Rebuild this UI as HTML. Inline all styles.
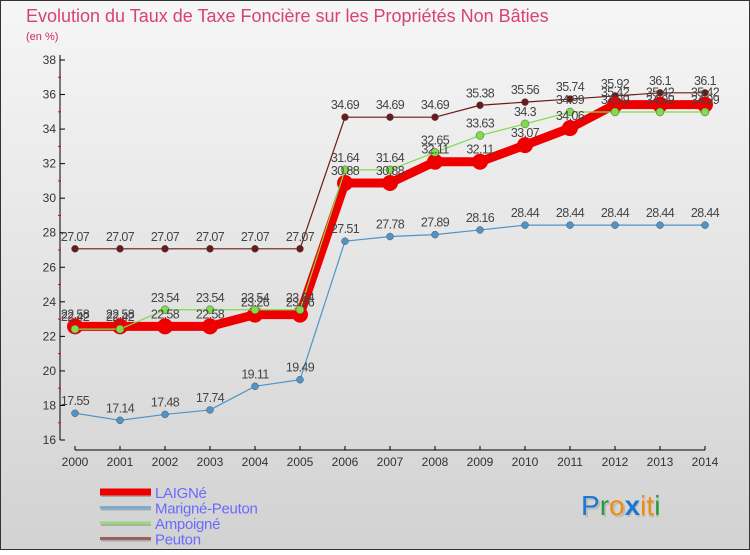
<!DOCTYPE html>
<html><head><meta charset="utf-8">
<style>
body{margin:0;width:750px;height:550px;overflow:hidden;font-family:"Liberation Sans",sans-serif}
</style></head><body>
<svg id="c" width="750" height="550" xmlns="http://www.w3.org/2000/svg">
<defs><linearGradient id="bg" x1="0" y1="0" x2="0" y2="1"><stop offset="0" stop-color="#f6f6f6"/><stop offset="1" stop-color="#d2d2d2"/></linearGradient></defs>
<rect x="0.5" y="0.5" width="749" height="549" fill="url(#bg)" stroke="#333"/>
<text x="26" y="22" font-size="18" fill="#d8407a">Evolution du Taux de Taxe Foncière sur les Propriétés Non Bâties</text>
<text x="26" y="40" font-size="11" fill="#d1246b">(en %)</text>
<g id="axes"></g><g id="series"></g><g id="legend"></g>
<g font-size="28" font-family="Liberation Sans, sans-serif">
<text x="583" y="517" fill="#aaa" opacity="0.6">Proxiti</text>
<text x="581" y="515"><tspan fill="#1a78d0">P</tspan><tspan fill="#2a9a3a">r</tspan><tspan fill="#f08a10">o</tspan><tspan fill="#1a78d0" font-weight="bold">x</tspan><tspan fill="#f08a10">i</tspan><tspan fill="#f08a10">t</tspan><tspan fill="#2a9a3a">i</tspan></text>
</g>
</svg>
<script>
const years=[2000,2001,2002,2003,2004,2005,2006,2007,2008,2009,2010,2011,2012,2013,2014];
const laigne=[22.58,22.58,22.58,22.58,23.26,23.26,30.88,30.88,32.11,32.11,33.07,34.06,35.42,35.42,35.42];
const marigne=[17.55,17.14,17.48,17.74,19.11,19.49,27.51,27.78,27.89,28.16,28.44,28.44,28.44,28.44,28.44];
const ampoigne=[22.42,22.42,23.54,23.54,23.54,23.54,31.64,31.64,32.65,33.63,34.3,34.99,34.99,34.99,34.99];
const peuton=[27.07,27.07,27.07,27.07,27.07,27.07,34.69,34.69,34.69,35.38,35.56,35.74,35.92,36.1,36.1];
const yTicks=[16,18,20,22,24,26,28,30,32,34,36,38];
const seriesNames=["LAIGNé","Marigné-Peuton","Ampoigné","Peuton"];
const NS="http://www.w3.org/2000/svg";
const X=i=>75+i*(705-75)/(years.length-1);
const Y=v=>440-(v-16)*(380/22);
function mk(t,a,p){const e=document.createElementNS(NS,t);for(const k in a)e.setAttribute(k,a[k]);p.appendChild(e);return e;}
const ax=document.getElementById('axes');
const yl=mk('line',{x1:60,y1:55,x2:60,y2:440,stroke:'#000'},ax);


yTicks.forEach(v=>{
 mk('line',{x1:60,y1:Y(v),x2:65,y2:Y(v),stroke:'#000'},ax);
 if(v<38) mk('line',{x1:58,y1:Y(v+1),x2:61,y2:Y(v+1),stroke:'#e00'},ax);
 const t=mk('text',{x:56,y:Y(v)+4,'font-size':12,fill:'#333','text-anchor':'end'},ax);t.textContent=v;
 
 
});
const xl=mk('line',{x1:75,y1:450,x2:705,y2:450,stroke:'#000'},ax);


years.forEach((y,i)=>{
 mk('line',{x1:X(i),y1:446,x2:X(i),y2:450,stroke:'#000'},ax);
 const t=mk('text',{x:X(i),y:466,'font-size':12,fill:'#333','text-anchor':'middle'},ax);t.textContent=y;
 
 
});
const sg=document.getElementById('series');
function draw(data,color,w,r,name){
 const g=mk('g',{},sg);
 
 
 mk('polyline',{points:data.map((v,i)=>X(i)+','+Y(v)).join(' '),fill:'none',stroke:color,'stroke-width':w,'stroke-linejoin':'round'},g);
 data.forEach((v,i)=>{
  const c=mk('circle',{cx:X(i),cy:Y(v),r:r,fill:color,stroke:w>3?color:'#555','stroke-width':w>3?0:0.5},g);
  
  
 });
}
function labels(data,name){
 data.forEach((v,i)=>{const t=mk('text',{x:X(i),y:Y(v)-8,'font-size':12.5,fill:'#444','text-anchor':'middle','letter-spacing':'-0.6'},sg);t.textContent=v;
 
 });
}
draw(marigne,'#4f94c8',1.2,3.5,'marigne-peuton-series');
draw(peuton,'#6b1a1a',1.2,3.5,'peuton-series');
draw(laigne,'#ee0000',9,8,'laigne-series');
draw(ampoigne,'#7fdc4a',1.2,4,'ampoigne-series');
labels(marigne,'marigne-peuton');labels(peuton,'peuton');labels(laigne,'laigne');labels(ampoigne,'ampoigne');
const lg=document.getElementById('legend');
const cols=['#ee0000','#7aaed0','#9bd87a','#9a6060'];const ws=[7,3,3,3];
seriesNames.forEach((n,i)=>{
 const yy=492+i*15.5;
 const g=mk('g',{},lg);
 
 
 mk('line',{x1:101,y1:yy+1.5,x2:151,y2:yy+1.5,stroke:'#aaa','stroke-width':ws[i]},g);
 mk('line',{x1:100,y1:yy,x2:151,y2:yy,stroke:cols[i],'stroke-width':ws[i]},g);
 const t=mk('text',{x:155,y:yy+6,'font-size':15,fill:'#6a6aff','letter-spacing':'-0.3'},g);t.textContent=n;
});
</script>
</body></html>
